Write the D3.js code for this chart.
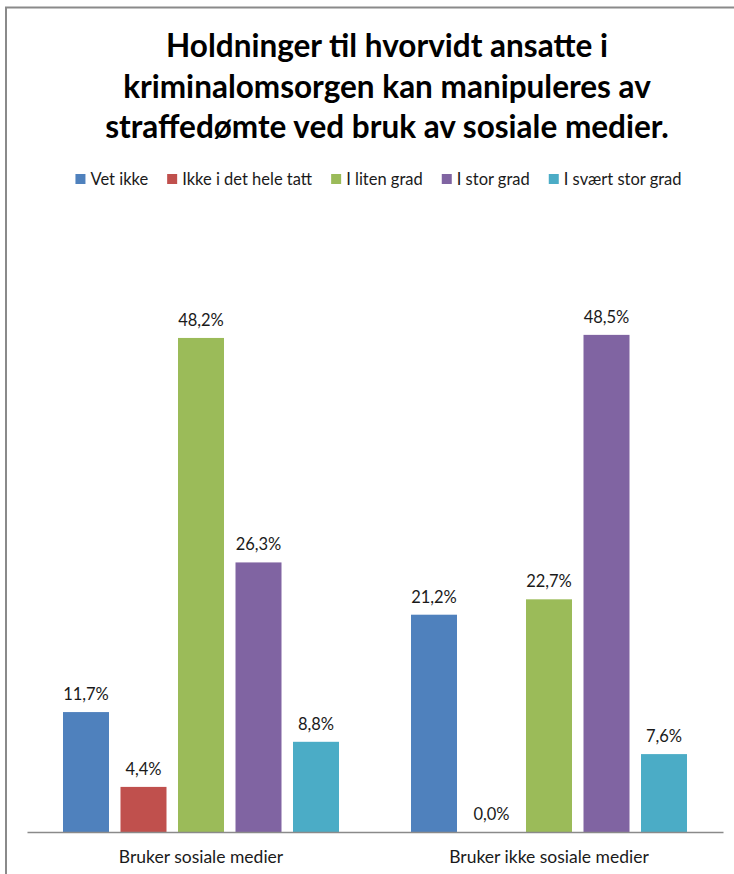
<!DOCTYPE html>
<html>
<head>
<meta charset="utf-8">
<script src="https://cdnjs.cloudflare.com/ajax/libs/d3/7.8.5/d3.min.js"></script>
<style>
  html, body { margin: 0; background: #fff; overflow: hidden; }
  svg { display: block; }
  text { font-family: Lato, "Open Sans", sans-serif; fill: #1a1a1a; }
</style>
</head>
<body>
<div id="contents"></div>
<script>
var titleLines = ["Holdninger til hvorvidt ansatte i",
                  "kriminalomsorgen kan manipuleres av",
                  "straffedømte ved bruk av sosiale medier."];
var categories = ["Bruker sosiale medier", "Bruker ikke sosiale medier"];
var seriesNames = ["Vet ikke", "Ikke i det hele tatt", "I liten grad", "I stor grad", "I svært stor grad"];
var seriesColors = ["#4F81BD", "#C0504D", "#9BBB59", "#8064A2", "#4BACC6"];
var brukerValues = [11.7, 4.4, 48.2, 26.3, 8.8];
var brukerIkkeValues = [21.2, 0.0, 22.7, 48.5, 7.6];

function drawChart(){
    var width = 734, height = 874;
    var baseline = 832;

    var svg = d3.select("#contents")
                .append("svg")
                .attr("width", width)
                .attr("height", height);

    // chart frame: only the top and left edges fall inside the picture
    svg.append("path")
        .attr("d", "M6,874V7.5H734")
        .attr("fill", "none")
        .attr("stroke", "#8a8a8a")
        .attr("stroke-width", 2);

    svg.selectAll(".title")
        .data(titleLines)
        .enter()
            .append("text")
            .attr("class", "title")
            .attr("x", 387)
            .attr("y", function(d, i){ return 57 + i * 40.5; })
            .attr("text-anchor", "middle")
            .style("font-weight", "bold")
            .style("font-size", "31.5px")
            .style("fill", "#000")
            .text(function(d){ return d; });

    // legend, laid out from measured text widths
    var legend = svg.append("g");
    var item = legend.selectAll(".item")
                    .data(seriesNames)
                    .enter()
                        .append("g")
                        .attr("class", "item");
    item.append("rect")
        .attr("width", 10)
        .attr("height", 10)
        .attr("y", -11)
        .attr("fill", function(d, i){ return seriesColors[i]; });
    item.append("text")
        .attr("x", 15)
        .style("font-size", "16.5px")
        .text(function(d){ return d; });
    var xpos = 0;
    item.each(function(){
        var g = d3.select(this);
        g.attr("transform", "translate(" + xpos + ",0)");
        xpos += 15 + g.select("text").node().getComputedTextLength() + 19;
    });
    var legendWidth = xpos - 19;
    legend.attr("transform", "translate(" + (378.5 - legendWidth / 2) + ",185)");

    var x0 = d3.scaleBand()
                .domain(categories)
                .range([27, 723]);
    var x1 = d3.scaleBand()
                .domain(seriesNames)
                .range([0, x0.bandwidth()])
                .paddingInner(0.2)
                .paddingOuter(0.626);
    var y = d3.scaleLinear()
                .domain([0, 60])
                .range([baseline, baseline - 615]);

    var groups = categories.map(function(c, ci){
        var vals = ci === 0 ? brukerValues : brukerIkkeValues;
        return { name: c, values: vals.map(function(v, i){ return { series: seriesNames[i], value: v, color: seriesColors[i] }; }) };
    });

    var group = svg.selectAll(".group")
                    .data(groups)
                    .enter()
                        .append("g")
                        .attr("class", "group")
                        .attr("transform", function(d){ return "translate(" + x0(d.name) + ",0)"; });

    group.selectAll("rect")
        .data(function(d){ return d.values; })
        .enter()
            .append("rect")
            .attr("x", function(d){ return x1(d.series); })
            .attr("y", function(d){ return y(d.value); })
            .attr("width", x1.bandwidth())
            .attr("height", function(d){ return baseline - y(d.value); })
            .attr("fill", function(d){ return d.color; });

    group.selectAll(".label")
        .data(function(d){ return d.values; })
        .enter()
            .append("text")
            .attr("class", "label")
            .attr("x", function(d){ return x1(d.series) + x1.bandwidth() / 2; })
            .attr("y", function(d){ return y(d.value) - 12; })
            .attr("text-anchor", "middle")
            .style("font-size", "16.5px")
            .text(function(d){ return d.value.toFixed(1).replace(".", ",") + "%"; });

    var axis = svg.append("g")
                .attr("transform", "translate(0," + baseline + ")")
                .call(d3.axisBottom(x0).tickSize(0).tickPadding(19));
    axis.select(".domain")
        .attr("stroke", "#8a8a8a")
        .attr("stroke-width", 1.5);
    axis.selectAll(".tick text")
        .style("font-family", "Lato, 'Open Sans', sans-serif")
        .style("font-size", "17.5px")
        .attr("fill", "#1a1a1a");
}

drawChart();
</script>
</body>
</html>
